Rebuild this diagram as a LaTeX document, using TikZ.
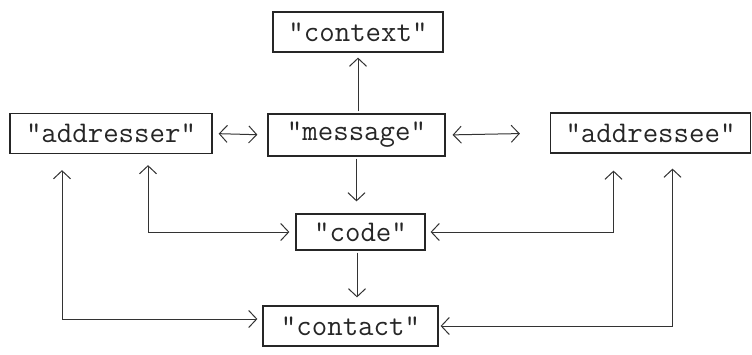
\documentclass[tikz,border=0pt]{standalone}
\usepackage{fontspec}
\usetikzlibrary{arrows.meta}
\begin{document}
\begin{tikzpicture}[x=1pt,y=-1pt,
  box/.style={draw=black!85,line width=1.2pt,inner sep=0pt,
    minimum height=40pt,font=\ttfamily\fontsize{30}{32}\selectfont,text=black!85},
  link/.style={line width=1pt,draw=black!80,arrows={-Straight Barb[length=8pt,width=17pt,line width=1pt]}},
  dlink/.style={line width=1pt,draw=black!80,
    arrows={Straight Barb[length=8pt,width=17pt,line width=1pt]-Straight Barb[length=8pt,width=17pt,line width=1pt]}}]
\useasboundingbox (0,0) rectangle (752,354);

% the six factors
\node[box,minimum width=170pt] (context)   at (358,32)    {"context"};
\node[box,minimum width=202pt] (addresser) at (111,133.5) {"addresser"};
\node[box,minimum width=177pt,minimum height=42pt] (message) at (356.5,135) {"message"};
\node[box,minimum width=200pt] (addressee) at (650.5,133) {"addressee"};
\node[box,minimum width=129pt,minimum height=36pt] (code) at (360.5,232) {"code"};
\node[box,minimum width=175pt] (contact)   at (350.5,326) {"contact"};

% straight connectors around the message
\draw[link,shorten <=2pt,shorten >=5pt] (context.south |- message.north) -- (context.south);
\draw[dlink,shorten <=6pt,shorten >=10pt] (addresser.east) -- (message.west);
\draw[dlink,shorten <=7pt,shorten >=30pt] (message.east) -- (addressee.west);
\draw[link,shorten <=2pt,shorten >=12pt] (message.south) -- (message.south |- code.north);
\coordinate (stem) at ([xshift=-3.5pt]code.south);
\draw[link,shorten <=2pt,shorten >=8pt] (stem) -- (stem |- contact.north);

% elbow connectors from the parties to code and contact
\draw[dlink,shorten <=11pt,shorten >=6pt] ([xshift=37pt]addresser.south) |- (code.west);
\draw[dlink,shorten <=17pt,shorten >=5pt] ([xshift=-37pt]addressee.south) |- (code.east);
\draw[dlink,shorten <=16pt,shorten >=5pt] ([xshift=-49pt]addresser.south) |- ([yshift=7pt]contact.west);
\draw[dlink,shorten <=15pt,shorten >=2pt] ([xshift=22pt]addressee.south) |- (contact.east);
\end{tikzpicture}
\end{document}
